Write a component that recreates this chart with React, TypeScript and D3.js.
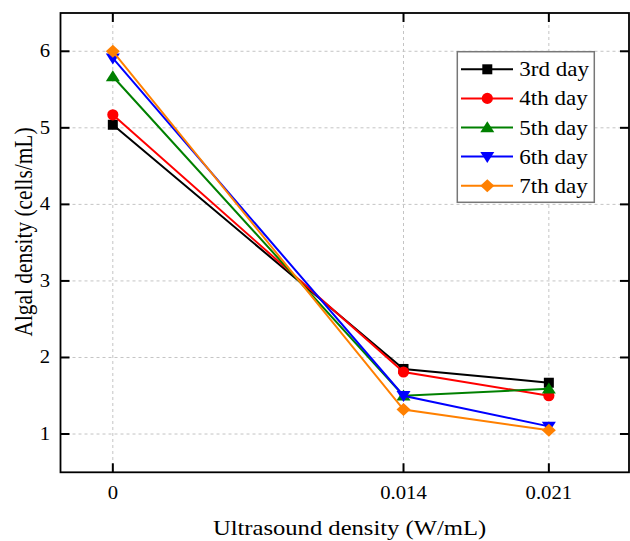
import React from "react";
import * as d3 from "d3";

// ultrasound density (W/mL)
const densities = [0, 0.014, 0.021];
const seriesNames = ["3rd day", "4th day", "5th day", "6th day", "7th day"];
const day3 = [5.04, 1.85, 1.67];
const day4 = [5.17, 1.81, 1.5];
const day5 = [5.67, 1.5, 1.59];
const day6 = [5.91, 1.5, 1.1];
const day7 = [6.0, 1.32, 1.05];
const xTicks = [0, 0.014, 0.021];
const yTicks = [1, 2, 3, 4, 5, 6];

const colors = ["#000000", "#ff0000", "#008000", "#0000ff", "#ff8000"];
const W = 630;
const H = 541;
const M = { left: 60.5, right: 629, top: 13, bottom: 472.3 };
const SX = 1.15; // text in the source is a bit wide

const x = d3.scaleLinear().domain([-0.00252, 0.02486]).range([M.left, M.right]);
const y = d3.scaleLinear().domain([0.5, 6.5]).range([M.bottom, M.top]);

function markerPath(i: number) {
  if (i === 0) return d3.symbol().type(d3.symbolSquare).size(100)()!;
  if (i === 1) return d3.symbol().type(d3.symbolCircle).size(98)()!;
  if (i === 2 || i === 3) return d3.symbol().type(d3.symbolTriangle).size(70)()!;
  return d3.symbol().type(d3.symbolSquare).size(84)()!;
}

function markerTransform(i: number, cx: number, cy: number) {
  if (i === 2) return `translate(${cx},${cy + 1}) scale(1.1,1)`;
  if (i === 3) return `translate(${cx},${cy - 1}) rotate(180) scale(1.1,1)`;
  if (i === 4) return `translate(${cx},${cy}) scale(1.08,1) rotate(45)`;
  return `translate(${cx},${cy})`;
}

export default function App() {
  const series = [day3, day4, day5, day6, day7];
  const line = d3
    .line<number>()
    .x((_, k) => x(densities[k]))
    .y((v) => y(v));
  const font = "'Liberation Serif', 'Times New Roman', serif";
  const tickLen = 9;

  return (
    <svg
      width={W}
      height={H}
      style={{ position: "absolute", left: 0, top: 0, background: "#fff" }}
      fontFamily={font}
    >
      {/* grid */}
      {yTicks.map((t) => (
        <line key={"gy" + t} x1={M.left} x2={M.right} y1={y(t)} y2={y(t)}
          stroke="#c4c4c4" strokeWidth={1} strokeDasharray="3,3" />
      ))}
      {xTicks.map((t) => (
        <line key={"gx" + t} x1={x(t)} x2={x(t)} y1={M.top} y2={M.bottom}
          stroke="#c4c4c4" strokeWidth={1} strokeDasharray="3,3" />
      ))}

      {/* frame + ticks */}
      <rect x={M.left} y={M.top} width={M.right - M.left} height={M.bottom - M.top}
        fill="none" stroke="#000" strokeWidth={1.8} />
      {yTicks.map((t) => (
        <g key={"ty" + t}>
          <line x1={M.left} x2={M.left + tickLen} y1={y(t)} y2={y(t)} stroke="#000" strokeWidth={2} />
          <line x1={M.right} x2={M.right - tickLen} y1={y(t)} y2={y(t)} stroke="#000" strokeWidth={2} />
          <text transform={`translate(50,${y(t) + 6}) scale(${SX},1)`} textAnchor="end" fontSize={18}>
            {t}
          </text>
        </g>
      ))}
      {xTicks.map((t) => (
        <g key={"tx" + t}>
          <line x1={x(t)} x2={x(t)} y1={M.bottom} y2={M.bottom - tickLen} stroke="#000" strokeWidth={2} />
          <line x1={x(t)} x2={x(t)} y1={M.top} y2={M.top + tickLen} stroke="#000" strokeWidth={2} />
          <text transform={`translate(${x(t)},499) scale(${SX},1)`} textAnchor="middle" fontSize={18}>
            {t}
          </text>
        </g>
      ))}

      {/* axis titles */}
      <text transform={`translate(349.5,535) scale(${SX},1)`} textAnchor="middle" fontSize={21.4}>
        Ultrasound density (W/mL)
      </text>
      <text transform={`translate(31.5,232) scale(${SX},1) rotate(-90)`} textAnchor="middle" fontSize={21.4}>
        Algal density (cells/mL)
      </text>

      {/* series */}
      {series.map((vals, i) => (
        <g key={"s" + i}>
          <path d={line(vals)!} fill="none" stroke={colors[i]} strokeWidth={2} />
          {vals.map((v, k) => (
            <path key={k} d={markerPath(i)} transform={markerTransform(i, x(densities[k]), y(v))} fill={colors[i]} />
          ))}
        </g>
      ))}

      {/* legend */}
      <rect x={457.3} y={51.7} width={137} height={150.6} fill="#fff" stroke="#777" strokeWidth={1.5} />
      {seriesNames.map((name, i) => {
        const ry = 69.3 + i * 29.1;
        return (
          <g key={"l" + i}>
            <line x1={461} x2={513} y1={ry} y2={ry} stroke={colors[i]} strokeWidth={2} />
            <path d={markerPath(i)} transform={markerTransform(i, 487.3, ry)} fill={colors[i]} />
            <text transform={`translate(519.3,${ry + 7}) scale(${SX},1)`} fontSize={20}>
              {name}
            </text>
          </g>
        );
      })}
    </svg>
  );
}
